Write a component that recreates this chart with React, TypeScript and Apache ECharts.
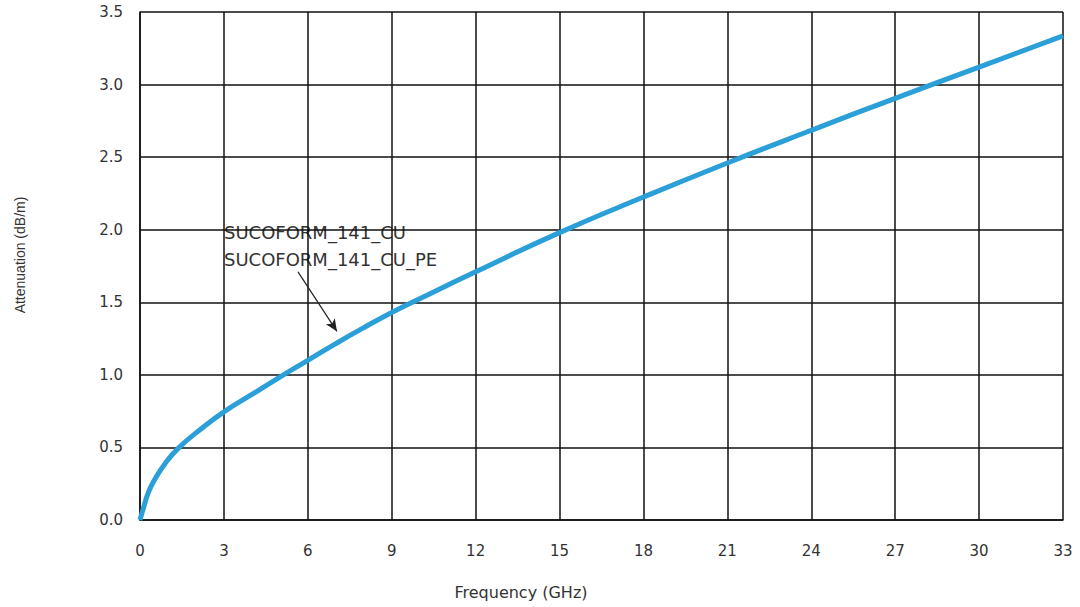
import React, { useEffect, useRef } from "react";
import * as echarts from "echarts";

const freqGHz = [0, 0.15, 0.3, 0.5, 0.9, 1.4, 2.2, 3, 4, 5, 6, 7, 8, 9, 10, 12, 15, 18, 21, 24, 27, 30, 33];
const attenuation = [0, 0.1, 0.19, 0.27, 0.39, 0.5, 0.63, 0.745, 0.865, 0.985, 1.1, 1.215, 1.325, 1.43, 1.525, 1.71, 1.98, 2.225, 2.46, 2.685, 2.905, 3.12, 3.335];
const seriesNames = ["SUCOFORM_141_CU", "SUCOFORM_141_CU_PE"];
const arrowFrom = [5.65, 1.71];
const arrowTo = [7.04, 1.3];

const FONT = "'DejaVu Sans', sans-serif";
const NARROW = "'Liberation Sans', Arial, sans-serif";

export default function App() {
  const ref = useRef<HTMLDivElement>(null);
  useEffect(() => {
    const chart = echarts.init(ref.current!, undefined, { renderer: "svg" });
    const data = freqGHz.map((f, i) => [f, attenuation[i]]);
    chart.setOption({
      animation: false,
      backgroundColor: "#ffffff",
      grid: { left: 140, top: 12, right: 17, bottom: 87, containLabel: false },
      xAxis: {
        type: "value",
        min: 0,
        max: 33,
        interval: 3,
        axisLine: { show: true, lineStyle: { color: "#111", width: 1.5 } },
        axisTick: { show: false },
        splitLine: { show: true, lineStyle: { color: "#111", width: 1.5 } },
        axisLabel: { color: "#333", fontSize: 15, fontFamily: FONT, margin: 23 },
      },
      yAxis: {
        type: "value",
        min: 0,
        max: 3.5,
        interval: 0.5,
        axisLine: { show: true, lineStyle: { color: "#111", width: 1.5 } },
        axisTick: { show: false },
        splitLine: { show: true, lineStyle: { color: "#111", width: 1.5 } },
        axisLabel: {
          color: "#333",
          fontSize: 15,
          fontFamily: FONT,
          margin: 17,
          formatter: (v: number) => v.toFixed(1),
        },
      },
      series: [
        {
          type: "line",
          name: seriesNames[0],
          data,
          smooth: 0.5,
          showSymbol: false,
          symbol: "none",
          lineStyle: { color: "#2a9fd8", width: 5 },
          z: 3,
          markLine: {
            silent: true,
            symbol: ["none", "arrow"],
            symbolSize: [8, 12],
            label: { show: false },
            lineStyle: { color: "#222", width: 1.2, type: "solid" },
            data: [[{ coord: arrowFrom }, { coord: arrowTo }]],
          },
        },
      ],
      graphic: [
        {
          type: "text",
          left: 224,
          top: 223,
          style: { text: seriesNames[0], fontSize: 18, fontFamily: FONT, fill: "#333" },
        },
        {
          type: "text",
          left: 224,
          top: 250,
          style: { text: seriesNames[1], fontSize: 18, fontFamily: FONT, fill: "#333" },
        },
        {
          type: "text",
          x: 20,
          y: 255,
          rotation: Math.PI / 2,
          style: {
            text: "Attenuation (dB/m)",
            fontSize: 14,
            fontFamily: NARROW,
            fill: "#333",
            align: "center",
            verticalAlign: "middle",
          },
        },
        {
          type: "text",
          x: 521,
          y: 592,
          style: {
            text: "Frequency (GHz)",
            fontSize: 16,
            fontFamily: FONT,
            fill: "#333",
            align: "center",
            verticalAlign: "middle",
          },
        },
      ],
    });
    return () => chart.dispose();
  }, []);
  return (
    <div
      ref={ref}
      style={{ position: "fixed", left: 0, top: 0, width: 1080, height: 607 }}
    />
  );
}
